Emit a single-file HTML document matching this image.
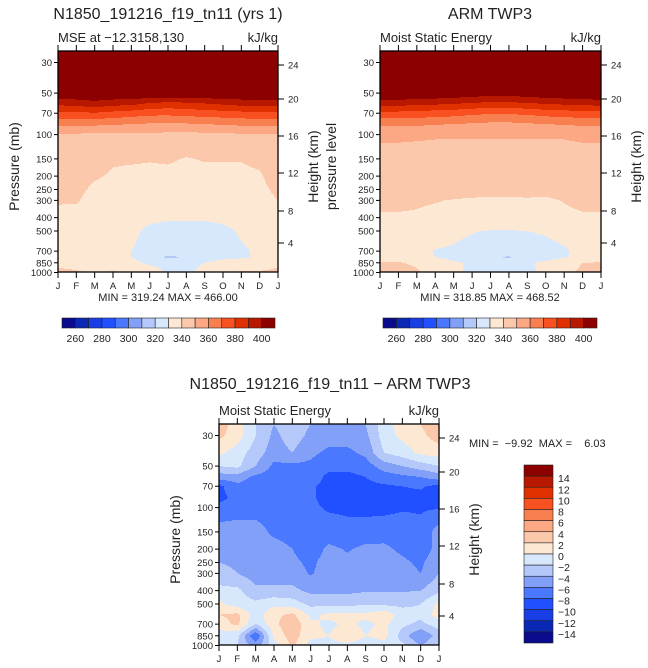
<!DOCTYPE html>
<html><head><meta charset="utf-8"><style>
html,body{margin:0;padding:0;background:#fff;}
svg{display:block;font-family:"Liberation Sans",sans-serif;}
</style></head><body>
<svg id="s" width="648" height="668" viewBox="0 0 648 668"></svg>
<script>
const months=["J","F","M","A","M","J","J","A","S","O","N","D","J"];
const pTicks=[30,50,70,100,150,200,250,300,400,500,700,850,1000];
const hTicks=[24,20,16,12,8,4];
const hTickOffsets=[14,48,85,122,160,192];
const mseLabels=[260,280,300,320,340,360,380,400];
const diffLabels=[14,12,10,8,6,4,2,0,-2,-4,-6,-8,-10,-12,-14];
const palette=["#0a0a8c","#0a28b4","#1a3ee6","#2050ff","#4a78ff","#82a0f8","#b4c8fa","#d8e8fc","#fde8d4","#fcc8ac","#fca884","#f88050","#f85020","#e03000","#b81800","#8c0000"];

const modelLevels=[25,50,60,70,85,100,150,200,300,400,500,700,775,850,1000];
const modelMSE=[
[466,466,466,466,466,466,466,466,466,466,466,466,466],
[410,410,410,410,410,410,410,410,410,410,410,410,410],
[392,393,396,393,392,388,386,387,389,391,393,394,393],
[378,378,379,377,375,373,373,374,375,376,377,378,378],
[362,362,361,360,359,358,357,358,359,360,361,362,362],
[349,349,347,348,348,348,348,347,348,348,349,349,349],
[346,345,343,341,341,340.5,341,339.5,340.5,340.5,340.5,342,346],
[345,344,341,339,338,338,338,337,338,338,338,339,344],
[341,341,336,335,335,335,335,335,335,335,335,337,340],
[337,336,335,334,334,332,331,331,331,332,334,335,337],
[336,336,335,334,332,328,327,327,327,328,331,334,336],
[336,336,335,334,330,327,325,324,327,328,329,331,336],
[335,335,334,333,330,326,318,321,326,328,329,331,335],
[338,337,336,334,333,328,327,327,330,333,334,335,338],
[342,341,339,341,338,336,328,328,333,339,341,341,342]];

const armLevels=[25,50,60,70,85,100,150,200,300,400,500,700,775,850,1000];
const armMSE=[
[468,468,468,468,468,468,468,468,468,468,468,468,468],
[411,411,410,409,408,406,405,405,406,408,409,410,411],
[393,393,392,391,390,388,387,387,388,390,391,392,393],
[377,377,376,375,374,372,371,371,372,374,375,376,377],
[361,361,361,360,359,358,357,357,358,359,360,361,361],
[352,352,351.5,351,351,351,351,351,351,351,351,352,352],
[346,346,346,346,346,346,346,346,346,346,346,346,346],
[344,344,344,344,344,344,344,344,344,344,344,344,344],
[341,341,340.5,340.2,339.8,339.5,339.3,339.3,339.5,339.3,340.2,341,341],
[339.5,339.5,339.5,339,338.5,338,338,338,338,338,339,339.5,339.5],
[336,336,335,334,332,330.5,329.5,329.5,330,331,333,335,336],
[335,335,333,329.5,329,327,325,325,326,327,329,332,335],
[336,336,333.5,330,328,326,321,319,324,327,329.5,332,336],
[340.5,340.5,339,334,331,329,327.5,327.5,329,331.5,335,340,340.5],
[342,342,341,336,331,329,328,328,329,331,338,342,342]];

const diffLevels=[25,30,40,50,60,70,85,100,150,200,250,300,400,500,600,700,850,1000];
const diffMSE=[
[3,1,-2,-4,-3,-4,-5,-5,-4,-1,1,2,3.5],
[2.5,1,-2,-4.5,-3,-4.5,-5,-5,-4.5,-1,0.5,1.5,3],
[0.5,-1,-3,-5,-4,-5.5,-6.5,-6.5,-5.5,-2,-1,0.5,1],
[-2,-1.5,-4,-6.5,-6.5,-6.5,-7.5,-7.5,-7,-5,-4,-3,-2],
[-5,-5,-6.5,-7,-7,-7,-8.5,-8.5,-8,-7,-6.5,-6,-5],
[-8.5,-6.5,-7,-7.5,-7.5,-7.8,-8.5,-9,-8.5,-8.3,-8,-7.8,-8.5],
[-8.5,-7.5,-7.5,-7.5,-7.5,-7.8,-8.5,-9,-9,-8.5,-8.5,-8.5,-8.7],
[-7.5,-7,-7,-7.3,-7.5,-7.7,-8.2,-8.3,-8.5,-8.5,-8.2,-8.2,-8.2],
[-5,-5,-5,-6.5,-7,-7.5,-7.2,-7.5,-7.2,-7,-7,-7.5,-5],
[-5,-5,-6,-5,-6,-7.2,-5.5,-6.2,-5.5,-5.5,-6.5,-7.5,-5],
[-4,-4.5,-5.5,-5,-5.5,-6.5,-5,-5.5,-5,-5,-5.5,-6.5,-4],
[-3,-4,-5,-5,-5,-6.2,-5,-5,-5,-5,-5,-6,-4],
[-1.5,-1.5,-3.5,-3.5,-3.5,-4.5,-4.5,-4.5,-4.2,-4.2,-4.2,-4,-2.5],
[0.5,-1,-1.5,-0.5,-1,-2.5,-2.5,-2.5,-2.3,-2.5,-2.5,-2,0.5],
[2,2.5,-1,1.5,2.5,-0.5,0.5,0.5,0.5,1.5,-1,-1.5,1],
[1,2.5,-2,1.5,3.5,0.5,-0.5,0.5,-0.5,0.5,-1.5,-2.5,-1],
[-1,-1.5,-8,0.5,3,0.5,0,1.5,0,0.8,-3,-6,-3],
[-2,-2,-5,-1,2.5,-1,-0.5,-0.5,-1,-1,-1.5,-4,-2]];

const NS="http://www.w3.org/2000/svg";
const svg=document.getElementById('s');
function el(tag,attrs,parent){const e=document.createElementNS(NS,tag);for(const k in attrs)e.setAttribute(k,attrs[k]);(parent||svg).appendChild(e);return e;}
function txt(s,x,y,size,anchor,parent,name,rot){const t=el('text',{x:x,y:y,'font-size':size,'text-anchor':anchor||'start',fill:'#222'},parent);


if(rot)t.setAttribute('transform','rotate(-90 '+x+' '+y+')');t.textContent=s;return t;}

const DEC=137.9;
function yOfP(y0,p){return y0+11.5+Math.log10(p/30)*DEC;}
function pOfY(y0,y){return 30*Math.pow(10,(y-y0-11.5)/DEC);}
function xOfM(x0,w,m){return x0+m/12*w;}

function interp(levels,grid,m,p){
  const lp=Math.log(p);
  let i=0;
  while(i<levels.length-2 && Math.log(levels[i+1])<lp) i++;
  let t=(lp-Math.log(levels[i]))/(Math.log(levels[i+1])-Math.log(levels[i]));
  t=Math.max(0,Math.min(1,t));
  let j=Math.min(11,Math.floor(m));let u=m-j;
  const a=grid[i][j]*(1-u)+grid[i][j+1]*u;
  const b=grid[i+1][j]*(1-u)+grid[i+1][j+1]*u;
  return a*(1-t)+b*t;
}

function contourPlot(name,x0,y0,w,h,levels,grid,bin){
  const g=el('g',{'shape-rendering':'crispEdges'});
  
  
  const step=1;
  const nx=Math.round(w);
  for(let y=y0;y<y0+h;y+=step){
    const p=pOfY(y0,y+step/2);
    let runStart=0,runC=-1;
    for(let k=0;k<=nx;k++){
      let c=-1;
      if(k<nx){const m=(k+0.5)/nx*12;c=bin(interp(levels,grid,Math.min(11.999,m),p));}
      if(c!==runC){
        if(runC>=0){const r=el('rect',{x:x0+runStart,y:y,width:k-runStart,height:step+0.3,fill:palette[runC]},g);
          
          }
        runStart=k;runC=c;
      }
    }
  }
  return g;
}

function axes(prefix,x0,y0,w,h,subL,subR,leftLabel){
  el('rect',{x:x0,y:y0,width:w,height:h,fill:'none',stroke:'#000','stroke-width':1.3});
  const ax=el('g',{stroke:'#000','stroke-width':1});
  
  
  months.forEach((mn,i)=>{
    const x=xOfM(x0,w,i);
    el('line',{x1:x,y1:y0,x2:x,y2:y0-6},ax);
    el('line',{x1:x,y1:y0+h,x2:x,y2:y0+h+6},ax);
    txt(mn,x,y0+h+17,9.5,'middle',null,prefix+'-month-label');
  });
  pTicks.forEach(p=>{
    const y=yOfP(y0,p);
    el('line',{x1:x0,y1:y,x2:x0-4,y2:y},ax);
    txt(String(p),x0-6,y+3.5,9.5,'end',null,prefix+'-pressure-tick');
  });
  hTicks.forEach((hk,i)=>{
    const y=y0+hTickOffsets[i];
    el('line',{x1:x0+w,y1:y,x2:x0+w+6,y2:y},ax);
    txt(String(hk),x0+w+10,y+3.5,9.5,'start',null,prefix+'-height-tick');
  });
  txt(subL,x0,y0-9,13,'start',null,prefix+'-subtitle');
  txt(subR,x0+w,y0-9,13,'end',null,prefix+'-units');
  txt('Height (km)',x0+w+40,y0+h/2+5,14,'middle',null,prefix+'-height-axis-title',true);
  if(leftLabel)txt(leftLabel[0],leftLabel[1],y0+h/2+5,14,'middle',null,prefix+'-y-axis-title',true);
}

function hbar(prefix,x0,y0,w,hh){
  const g=el('g',{});
  
  
  const bw=w/16;
  palette.forEach((c,i)=>{const r=el('rect',{x:x0+i*bw,y:y0,width:bw,height:hh,fill:c,stroke:'#222','stroke-width':0.6},g);
    
    });
  mseLabels.forEach((v,i)=>{txt(String(v),x0+(1+2*i)*bw,y0+hh+14,10.5,'middle',null,prefix+'-colorbar-label');});
}

const mseBin=v=>Math.max(0,Math.min(15,Math.floor((v-250)/10)));
const diffBin=v=>Math.max(0,Math.min(15,Math.floor((v+16)/2)));

// top-left
contourPlot('model-mse-contours',58,51,220,221,modelLevels,modelMSE,mseBin);
axes('model',58,51,220,221,'MSE at \u221212.3158,130','kJ/kg',['Pressure (mb)',19]);
txt('N1850_191216_f19_tn11 (yrs 1)',168,19,16,'middle',null,'model-title');
txt('MIN = 319.24 MAX = 466.00',168,301,11,'middle',null,'model-min-max');
hbar('model',62,318,213,10);

// top-right
contourPlot('arm-mse-contours',380,51,221,221,armLevels,armMSE,mseBin);
axes('arm',380,51,221,221,'Moist Static Energy','kJ/kg',['pressure level',336]);
txt('ARM TWP3',490,19,16,'middle',null,'arm-title');
txt('MIN = 318.85 MAX = 468.52',490,301,11,'middle',null,'arm-min-max');
hbar('arm',383,318,214,10);

// bottom diff
contourPlot('diff-mse-contours',219,424,220,221,diffLevels,diffMSE,diffBin);
axes('diff',219,424,220,221,'Moist Static Energy','kJ/kg',['Pressure (mb)',180]);
txt('N1850_191216_f19_tn11 \u2212 ARM TWP3',330,389,16,'middle',null,'diff-title');
const mm=txt('MIN =  \u22129.92  MAX =    6.03',469,447,11,'start',null,'diff-min-max');
mm.setAttribute('style','white-space:pre');
(function(){
  const x0=524,y0=465,bw=29,bh=(643-465)/16;
  const g=el('g',{});
  
  
  for(let i=0;i<16;i++){const r=el('rect',{x:x0,y:y0+i*bh,width:bw,height:bh,fill:palette[15-i],stroke:'#222','stroke-width':0.6},g);
    
    }
  diffLabels.forEach((v,i)=>{txt(v<0?'\u2212'+(-v):String(v),x0+bw+5,y0+(i+1)*bh+6,10.5,'start',null,'diff-colorbar-label');});
})();
</script>
</body></html>
